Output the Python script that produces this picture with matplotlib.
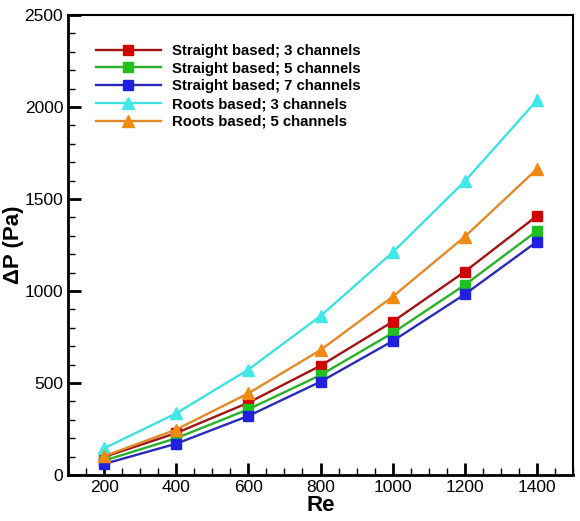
import numpy as np
import matplotlib.pyplot as plt
from matplotlib.ticker import MultipleLocator

plt.rcParams['font.family'] = ['Liberation Sans', 'DejaVu Sans']

re = [200, 400, 600, 800, 1000, 1200, 1400]
straight_3 = [98, 228, 393, 594, 833, 1105, 1408]
straight_5 = [78, 200, 357, 543, 772, 1033, 1326]
straight_7 = [60, 170, 321, 507, 728, 982, 1268]
roots_3 = [145, 335, 573, 864, 1210, 1596, 2036]
roots_5 = [102, 247, 444, 679, 969, 1295, 1663]

labels = ['Straight based; 3 channels', 'Straight based; 5 channels',
          'Straight based; 7 channels', 'Roots based; 3 channels',
          'Roots based; 5 channels']
line_colors = ['#a01414', '#28b028', '#2a2ab8', '#40e0e0', '#e08a2a']
marker_colors = ['#d00000', '#20c020', '#2020e0', '#40e8e8', '#f08a10']
markers = ['s', 's', 's', '^', '^']

fig = plt.figure(figsize=(5.8, 5.21), dpi=100)
ax = fig.add_axes([68/580, 1-475/521, (573-68)/580, (475-15)/521])

series = [straight_3, straight_5, straight_7, roots_3, roots_5]
for ys, lab, lc, mc, m in zip(series, labels, line_colors, marker_colors, markers):
    ax.plot(re, ys, color=lc, lw=1.7, marker=m, ms=7.5 if m == 's' else 8.5,
            mfc=mc, mec=mc, label=lab)

ax.set_xlim(100, 1500)
ax.set_ylim(0, 2500)
ax.xaxis.set_major_locator(MultipleLocator(200))
ax.xaxis.set_minor_locator(MultipleLocator(50))
ax.yaxis.set_major_locator(MultipleLocator(500))
ax.yaxis.set_minor_locator(MultipleLocator(100))
ax.tick_params(which='both', direction='in', top=False, right=False, labelsize=12.5)
ax.tick_params(which='major', length=9, width=2)
ax.tick_params(which='minor', length=5, width=1)
for s in ['left', 'bottom']:
    ax.spines[s].set_linewidth(2)
for s in ['top', 'right']:
    ax.spines[s].set_linewidth(1.5)

ax.set_xlabel('Re', fontsize=16, fontweight='bold', labelpad=0)
ax.set_ylabel('ΔP (Pa)', fontsize=16, fontweight='bold')
ax.yaxis.set_label_coords(-0.088, 0.5)

leg = ax.legend(loc='upper left', bbox_to_anchor=(0.043, 0.95), frameon=False,
                prop={'weight': 'bold', 'size': 10.7}, handlelength=4.4,
                handletextpad=0.75, labelspacing=0.25, borderaxespad=0)

fig.savefig('out.png', dpi=100)
